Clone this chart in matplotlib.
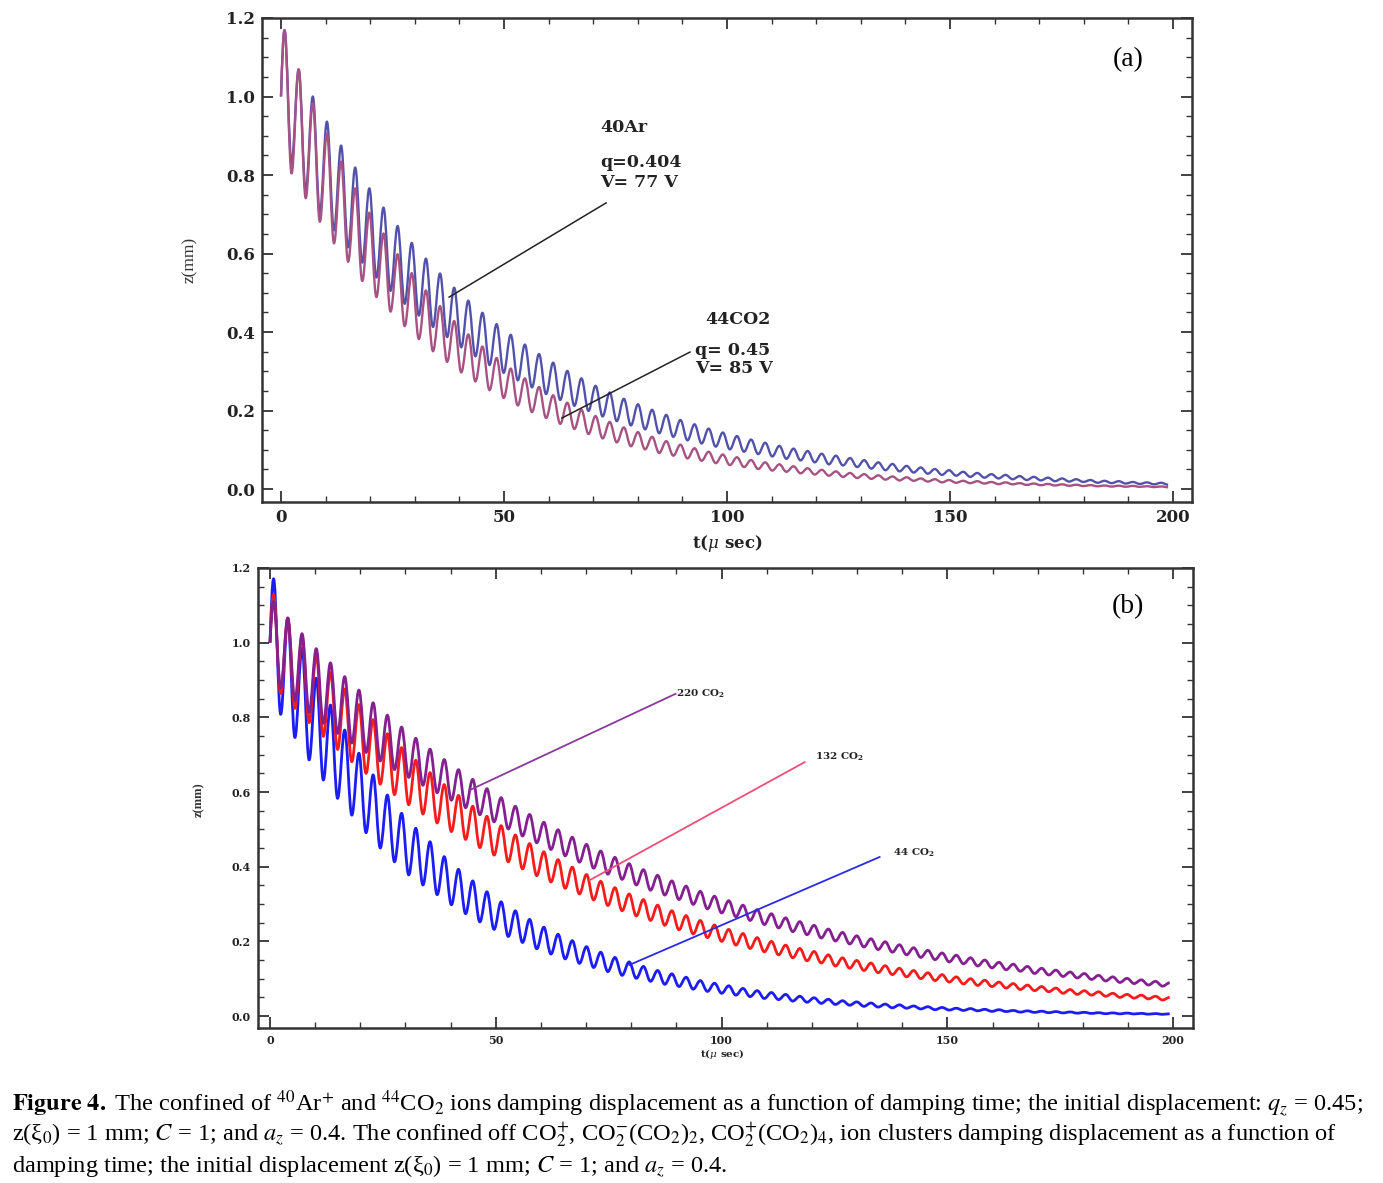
import numpy as np
import matplotlib
matplotlib.use('Agg')
import matplotlib.pyplot as plt
import matplotlib.ticker as ticker
from matplotlib.path import Path
from matplotlib.patches import PathPatch

plt.rcParams['font.family'] = ['DejaVu Serif']

''' values read off the figure '''
z_start = 1.0          # z at t = 0 (mm)
first_peak = 0.79      # time of first maximum (micro sec)
period_a = 3.17        # oscillation period, panel (a)
period_b = 3.15        # oscillation period, panel (b)

# panel (a): 40Ar (q=0.404) and 44CO2 (q=0.45), maxima / minima of each cycle
ar40_peaks = [1.169, 1.069, 1.000, 0.936, 0.875, 0.819, 0.766, 0.717, 0.670, 0.627,
              0.587, 0.549, 0.513, 0.480, 0.449, 0.420, 0.393, 0.368, 0.344, 0.322,
              0.301, 0.282, 0.263, 0.246, 0.230, 0.216, 0.202, 0.189, 0.176, 0.165,
              0.154, 0.144, 0.135, 0.126, 0.118, 0.110, 0.103, 0.097, 0.090, 0.085,
              0.079, 0.0735, 0.068, 0.064, 0.059, 0.055, 0.051, 0.048, 0.044, 0.041,
              0.038, 0.036, 0.033, 0.031, 0.029, 0.027, 0.025, 0.023, 0.021, 0.020,
              0.018, 0.017, 0.016]
ar40_troughs = [0.830, 0.760, 0.704, 0.659, 0.616, 0.577, 0.539, 0.505, 0.472, 0.442,
                0.413, 0.387, 0.361, 0.338, 0.316, 0.296, 0.277, 0.259, 0.242, 0.227,
                0.212, 0.199, 0.185, 0.173, 0.162, 0.152, 0.142, 0.133, 0.124, 0.116,
                0.108, 0.101, 0.095, 0.089, 0.083, 0.077, 0.073, 0.068, 0.063, 0.060,
                0.056, 0.052, 0.048, 0.045, 0.042, 0.039, 0.036, 0.034, 0.031, 0.029,
                0.027, 0.025, 0.023, 0.022, 0.020, 0.019, 0.018, 0.016, 0.015, 0.014,
                0.013, 0.012, 0.011]
co2_a_peaks = [1.169, 1.069, 0.983, 0.906, 0.834, 0.766, 0.704, 0.651, 0.598, 0.550,
               0.506, 0.466, 0.428, 0.394, 0.363, 0.334, 0.307, 0.282, 0.260, 0.239,
               0.220, 0.202, 0.186, 0.171, 0.157, 0.145, 0.133, 0.122, 0.113, 0.104,
               0.095, 0.088, 0.081, 0.074, 0.068, 0.063, 0.058, 0.053, 0.049, 0.045,
               0.041, 0.038, 0.035, 0.032, 0.030, 0.027, 0.025, 0.023, 0.021, 0.020,
               0.018, 0.017, 0.015, 0.014, 0.013, 0.012, 0.011, 0.010, 0.009, 0.0085,
               0.008, 0.0072, 0.0066]
co2_a_troughs = [0.804, 0.741, 0.681, 0.626, 0.579, 0.530, 0.489, 0.452, 0.415, 0.382,
                 0.351, 0.324, 0.297, 0.274, 0.252, 0.232, 0.213, 0.196, 0.181, 0.166,
                 0.153, 0.140, 0.129, 0.119, 0.109, 0.101, 0.092, 0.085, 0.078, 0.072,
                 0.066, 0.061, 0.056, 0.051, 0.047, 0.044, 0.040, 0.037, 0.034, 0.031,
                 0.028, 0.026, 0.024, 0.022, 0.021, 0.019, 0.017, 0.016, 0.015, 0.014,
                 0.0125, 0.012, 0.0105, 0.0097, 0.009, 0.0083, 0.0076, 0.007, 0.0063, 0.0059,
                 0.0056, 0.005, 0.0046]

# panel (b): 44 CO2, 132 CO2, 220 CO2
co2_44_peaks = [1.171, 1.065, 0.985, 0.905, 0.833, 0.766, 0.704, 0.646, 0.592, 0.543,
                0.503, 0.467, 0.427, 0.393, 0.362, 0.333, 0.306, 0.282, 0.259, 0.238,
                0.219, 0.202, 0.186, 0.171, 0.157, 0.145, 0.133, 0.122, 0.113, 0.104,
                0.095, 0.088, 0.081, 0.074, 0.068, 0.063, 0.058, 0.053, 0.049, 0.045,
                0.041, 0.038, 0.035, 0.032, 0.030, 0.027, 0.025, 0.023, 0.021, 0.020,
                0.018, 0.017, 0.015, 0.014, 0.013, 0.012, 0.011, 0.010, 0.009, 0.0085,
                0.008, 0.0072, 0.0066, 0.0061]
co2_44_troughs = [0.808, 0.746, 0.686, 0.632, 0.583, 0.538, 0.491, 0.450, 0.413, 0.378,
                  0.351, 0.325, 0.298, 0.274, 0.252, 0.232, 0.213, 0.197, 0.180, 0.166,
                  0.153, 0.141, 0.130, 0.119, 0.109, 0.101, 0.093, 0.085, 0.079, 0.072,
                  0.066, 0.061, 0.056, 0.052, 0.047, 0.044, 0.040, 0.037, 0.034, 0.031,
                  0.029, 0.026, 0.024, 0.022, 0.021, 0.019, 0.017, 0.016, 0.015, 0.014,
                  0.0125, 0.012, 0.0105, 0.0098, 0.009, 0.0084, 0.0077, 0.007, 0.0063, 0.0059,
                  0.0056, 0.005, 0.0046]
co2_132_peaks = [1.128, 1.066, 1.015, 0.966, 0.920, 0.876, 0.834, 0.794, 0.756, 0.719,
                 0.685, 0.652, 0.620, 0.591, 0.562, 0.535, 0.510, 0.485, 0.462, 0.440,
                 0.419, 0.399, 0.379, 0.361, 0.344, 0.327, 0.312, 0.297, 0.282, 0.269,
                 0.256, 0.244, 0.232, 0.221, 0.210, 0.200, 0.190, 0.181, 0.173, 0.164,
                 0.156, 0.149, 0.142, 0.135, 0.128, 0.122, 0.116, 0.111, 0.105, 0.100,
                 0.096, 0.091, 0.087, 0.083, 0.079, 0.075, 0.071, 0.068, 0.065, 0.061,
                 0.058, 0.056, 0.053, 0.050]
co2_132_troughs = [0.864, 0.824, 0.786, 0.749, 0.714, 0.681, 0.650, 0.621, 0.593, 0.566,
                   0.541, 0.517, 0.494, 0.473, 0.451, 0.431, 0.413, 0.394, 0.376, 0.359,
                   0.342, 0.327, 0.311, 0.296, 0.282, 0.268, 0.256, 0.243, 0.231, 0.220,
                   0.210, 0.200, 0.190, 0.181, 0.172, 0.164, 0.156, 0.148, 0.142, 0.134,
                   0.128, 0.122, 0.116, 0.111, 0.105, 0.100, 0.095, 0.091, 0.086, 0.082,
                   0.079, 0.075, 0.071, 0.068, 0.065, 0.061, 0.058, 0.056, 0.053, 0.050,
                   0.048, 0.046, 0.043]
co2_220_peaks = [1.110, 1.066, 1.024, 0.984, 0.946, 0.909, 0.873, 0.839, 0.806, 0.774,
                 0.744, 0.715, 0.687, 0.660, 0.634, 0.609, 0.585, 0.562, 0.540, 0.519,
                 0.499, 0.479, 0.460, 0.442, 0.425, 0.408, 0.392, 0.377, 0.362, 0.348,
                 0.334, 0.321, 0.309, 0.297, 0.285, 0.274, 0.263, 0.253, 0.243, 0.233,
                 0.224, 0.215, 0.207, 0.199, 0.191, 0.183, 0.176, 0.169, 0.163, 0.156,
                 0.150, 0.144, 0.139, 0.133, 0.128, 0.123, 0.118, 0.114, 0.109, 0.105,
                 0.101, 0.097, 0.093, 0.089]
co2_220_troughs = [0.878, 0.845, 0.813, 0.784, 0.757, 0.731, 0.706, 0.683, 0.660, 0.639,
                   0.618, 0.598, 0.578, 0.558, 0.539, 0.520, 0.501, 0.482, 0.464, 0.446,
                   0.429, 0.412, 0.396, 0.380, 0.366, 0.351, 0.337, 0.324, 0.312, 0.299,
                   0.287, 0.276, 0.266, 0.256, 0.245, 0.236, 0.226, 0.218, 0.209, 0.201,
                   0.193, 0.185, 0.178, 0.171, 0.164, 0.157, 0.151, 0.145, 0.140, 0.134,
                   0.129, 0.124, 0.120, 0.114, 0.110, 0.106, 0.102, 0.098, 0.094, 0.090,
                   0.087, 0.083, 0.080]


def wave_path(peaks, troughs, period):
    ''' smooth curve through the extrema: one Bezier arc per half cycle '''
    t_pk = first_peak + period * np.arange(len(peaks))
    t_tr = t_pk[:len(troughs)] + period / 2
    ts, zs = [0.0], [z_start]
    for i in range(len(peaks)):
        ts.append(t_pk[i]); zs.append(peaks[i])
        if i < len(troughs):
            ts.append(t_tr[i]); zs.append(troughs[i])
    verts = [(ts[0], zs[0])]
    codes = [Path.MOVETO]
    k = 0.364
    for i in range(1, len(ts)):
        dt = ts[i] - ts[i - 1]
        if i == 1:
            c1 = (ts[0] + dt / 3, zs[0] + (zs[1] - zs[0]) * 0.55)
        else:
            c1 = (ts[i - 1] + k * dt, zs[i - 1])
        c2 = (ts[i] - k * dt, zs[i])
        verts += [c1, c2, (ts[i], zs[i])]
        codes += [Path.CURVE4] * 3
    return Path(verts, codes)


def style_axes(ax, lsize):
    ax.xaxis.set_major_locator(ticker.MultipleLocator(50))
    ax.xaxis.set_minor_locator(ticker.MultipleLocator(10))
    ax.yaxis.set_major_locator(ticker.MultipleLocator(0.2))
    ax.yaxis.set_minor_locator(ticker.MultipleLocator(0.05))
    ax.yaxis.set_major_formatter(ticker.FormatStrFormatter('%.1f'))
    ax.tick_params(which='both', direction='in', top=True, right=True, color='#333333')
    ax.tick_params(which='major', length=8, width=1.3, labelsize=lsize, pad=5)
    ax.tick_params(which='minor', length=4.5, width=1.0)
    for lab in ax.get_xticklabels() + ax.get_yticklabels():
        lab.set_fontweight('bold')
        lab.set_color('#222222')
    for sp in ax.spines.values():
        sp.set_linewidth(1.8)
        sp.set_color('#333333')


W, H = 1383, 1183
fig = plt.figure(figsize=(W / 100, H / 100), dpi=100)
fig.set_facecolor('w')

''' panel (a) '''
ax0 = fig.add_axes([262 / W, 1 - 502 / H, 930 / W, 484 / H])
ax0.add_patch(PathPatch(wave_path(ar40_peaks, ar40_troughs, period_a),
                        fill=False, edgecolor='#5252aa', lw=1.7, joinstyle='round'))
ax0.add_patch(PathPatch(wave_path(co2_a_peaks, co2_a_troughs, period_a),
                        fill=False, edgecolor='#a65282', lw=1.7, joinstyle='round'))
ax0.set_xlim(-4.26, 204.26)
ax0.set_ylim(-0.033, 1.2)
style_axes(ax0, 12)

ax0.plot([72.9, 37.7], [0.729, 0.489], color='#222222', lw=1.1)
ax0.plot([91.7, 63.0], [0.349, 0.181], color='#222222', lw=1.1)
ax0.text(71.5, 0.920, '40Ar', fontsize=12.5, fontweight='bold', va='center', color='#222222')
ax0.text(71.5, 0.833, 'q=0.404', fontsize=12.5, fontweight='bold', va='center', color='#222222')
ax0.text(71.5, 0.782, 'V= 77 V', fontsize=12.5, fontweight='bold', va='center', color='#222222')
ax0.text(95.1, 0.431, '44CO2', fontsize=12.5, fontweight='bold', va='center', color='#222222')
ax0.text(92.8, 0.354, 'q= 0.45', fontsize=12.5, fontweight='bold', va='center', color='#222222')
ax0.text(92.8, 0.308, 'V= 85 V', fontsize=12.5, fontweight='bold', va='center', color='#222222')

fig.text(1128 / W, 1 - 60 / H, '(a)', family='Liberation Serif', fontsize=20,
         ha='center', va='center')
fig.text(190 / W, 1 - 260 / H, 'z(mm)', family='Liberation Serif', fontsize=12.5,
         rotation=90, ha='center', va='center', color='#333333')
fig.text(727 / W, 1 - 543 / H, r't($\mu$ sec)', fontsize=12, fontweight='bold',
         ha='center', va='center', math_fontfamily='dejavuserif', color='#222222')

''' panel (b) '''
ax1 = fig.add_axes([258 / W, 1 - 1028 / H, 935 / W, 460 / H])
ax1.add_patch(PathPatch(wave_path(co2_44_peaks, co2_44_troughs, period_b),
                        fill=False, edgecolor='#1c1cf5', lw=2.0, joinstyle='round'))
ax1.add_patch(PathPatch(wave_path(co2_132_peaks, co2_132_troughs, period_b),
                        fill=False, edgecolor='#f51c1c', lw=2.0, joinstyle='round'))
ax1.add_patch(PathPatch(wave_path(co2_220_peaks, co2_220_troughs, period_b),
                        fill=False, edgecolor='#84208f', lw=2.0, joinstyle='round'))
ax1.set_xlim(-2.66, 204.4)
ax1.set_ylim(-0.032, 1.2)
style_axes(ax1, 8)

ax1.plot([44.2, 89.8], [0.605, 0.863], color='#8a3a9a', lw=1.3)
ax1.plot([70.8, 118.4], [0.364, 0.680], color='#ee4f78', lw=1.3)
ax1.plot([79.6, 135.0], [0.137, 0.426], color='#2a2ae8', lw=1.3)
ax1.text(90.0, 0.863, r'220 CO$_\mathbf{2}$', fontsize=7.5, fontweight='bold', va='center',
         math_fontfamily='dejavuserif', color='#222222')
ax1.text(120.6, 0.694, r'132 CO$_\mathbf{2}$', fontsize=7.5, fontweight='bold', va='center',
         math_fontfamily='dejavuserif', color='#222222')
ax1.text(137.9, 0.437, r'44 CO$_\mathbf{2}$', fontsize=7.5, fontweight='bold', va='center',
         math_fontfamily='dejavuserif', color='#222222')

fig.text(1128 / W, 1 - 607 / H, '(b)', family='Liberation Serif', fontsize=20,
         ha='center', va='center')
fig.text(199 / W, 1 - 800 / H, 'z(mm)', family='Liberation Serif', fontsize=9,
         fontweight='bold', rotation=90, ha='center', va='center', color='#333333')
fig.text(722 / W, 1 - 1054 / H, r't($\mu$ sec)', fontsize=7.5, fontweight='bold',
         ha='center', va='center', math_fontfamily='dejavuserif', color='#222222')

''' caption '''
cap = [r'$\mathbf{Figure\ 4.}$ The confined of $^{40}$Ar$^{+}$ and $^{44}$CO$_{2}$ ions damping '
       r'displacement as a function of damping time; the initial displacement: $q_z$ = 0.45;',
       r'z(ξ$_0$) = 1 mm; $C$ = 1; and $a_z$ = 0.4. The confined off CO$_2^{+}$, '
       r'CO$_2^{-}$(CO$_2$)$_2$, CO$_2^{+}$(CO$_2$)$_4$, ion clusters damping displacement as a function of',
       r'damping time; the initial displacement z(ξ$_0$) = 1 mm; $C$ = 1; and $a_z$ = 0.4.']
for line, y in zip(cap, [1104, 1135, 1166]):
    fig.text(12 / W, 1 - y / H, line, family='Liberation Serif', fontsize=17.6,
             ha='left', va='center', math_fontfamily='stix')

fig.savefig('out.png', dpi=100, facecolor='w')
